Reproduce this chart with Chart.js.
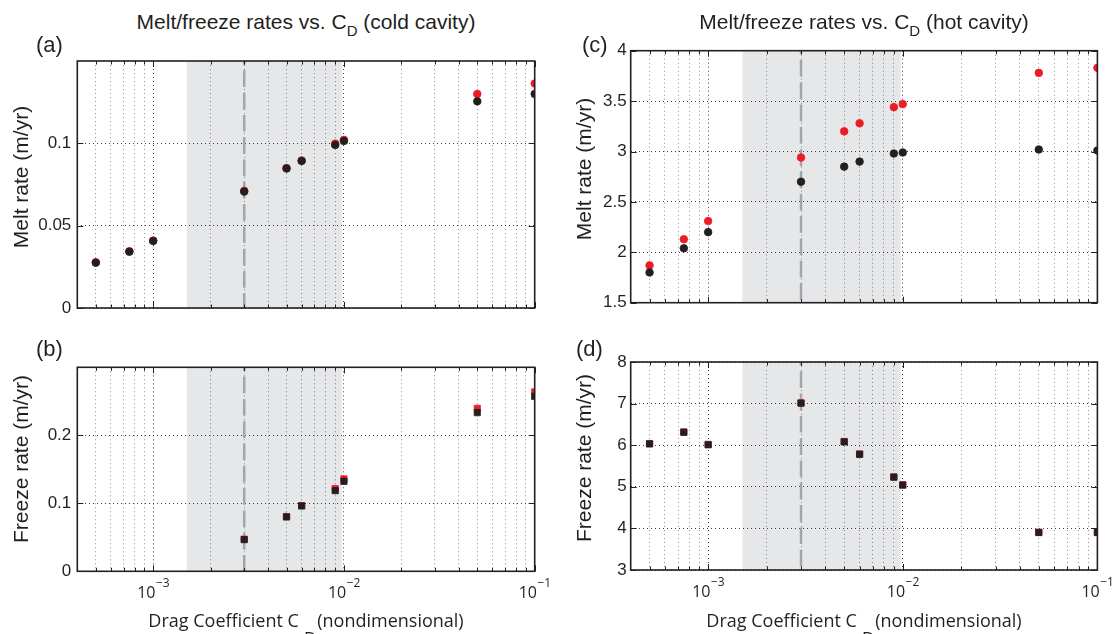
<!DOCTYPE html>
<html>
<head>
<meta charset="utf-8">
<title>Melt/freeze rates vs. C_D</title>
<script src="https://cdn.jsdelivr.net/npm/chart.js@4.4.0/dist/chart.umd.min.js"></script>
<style>
  html, body { margin: 0; padding: 0; background: #fff; }
  body {
    width: 1119px; height: 634px; position: relative; overflow: hidden;
    font-family: "Liberation Sans", Arial, sans-serif; color: #231f20;
  }
  canvas { position: absolute; }
  .txt { position: absolute; white-space: nowrap; line-height: 1; z-index: 2; }
  .title { font-size: 21px; transform: translateX(-50%); }
  .title sub { font-size: 15px; vertical-align: baseline; position: relative; top: 7px; }
  .panel { font-size: 22px; }
  .ylabel { font-size: 21px; transform: translate(-50%, -50%) rotate(-90deg); }
  .xlabel { font-family: "Open Sans", Lato, sans-serif; font-size: 18px; transform: translateX(-50%); }
  .xlabel sub { font-size: 17px; vertical-align: baseline; position: relative; top: 17px; margin: 0 1px 0 5px; }
</style>
</head>
<body>
<canvas id="meltCold" width="560" height="290" style="left:0;top:40px;width:560px;height:290px"></canvas>
<canvas id="freezeCold" width="560" height="294" style="left:0;top:340px;width:560px;height:294px"></canvas>
<canvas id="meltHot" width="559" height="300" style="left:560px;top:30px;width:559px;height:300px"></canvas>
<canvas id="freezeHot" width="559" height="294" style="left:560px;top:340px;width:559px;height:294px"></canvas>

<div class="txt title" style="left:306px;top:10.7px">Melt/freeze rates vs. C<sub>D</sub> (cold cavity)</div>
<div class="txt title" style="left:864px;top:10.7px">Melt/freeze rates vs. C<sub>D</sub> (hot cavity)</div>
<div class="txt panel" style="left:36px;top:34px">(a)</div>
<div class="txt panel" style="left:36px;top:338px">(b)</div>
<div class="txt panel" style="left:582px;top:34px">(c)</div>
<div class="txt panel" style="left:576px;top:338px">(d)</div>
<div class="txt ylabel" style="left:20px;top:177px">Melt rate (m/yr)</div>
<div class="txt ylabel" style="left:20px;top:459px">Freeze rate (m/yr)</div>
<div class="txt ylabel" style="left:583px;top:169px">Melt rate (m/yr)</div>
<div class="txt ylabel" style="left:583px;top:458px">Freeze rate (m/yr)</div>
<div class="txt xlabel" style="left:306px;top:610.5px">Drag Coefficient C<sub>D</sub>(nondimensional)</div>
<div class="txt xlabel" style="left:864px;top:610.5px">Drag Coefficient C<sub>D</sub>(nondimensional)</div>

<script>
// drag coefficients of the runs
const cd = [5e-4, 7.5e-4, 1e-3, 3e-3, 5e-3, 6e-3, 9e-3, 1e-2, 5e-2, 1e-1];

// (a) cold cavity melt rate
const meltColdBlack = [0.0275, 0.0342, 0.0407, 0.0707, 0.0847, 0.0893, 0.0990, 0.1014, 0.1255, 0.1300];
const meltColdRed = [0.0278, 0.0345, 0.0410, 0.0712, 0.0850, 0.0896, 0.0998, 0.1021, 0.1300, 0.1363];
// (b) cold cavity freeze rate (no runs below 3e-3)
const freezeColdBlack = [null, null, null, 0.0466, 0.0799, 0.0961, 0.1186, 0.1324, 0.2333, 0.2574];
const freezeColdRed = [null, null, null, 0.0472, 0.0805, 0.0966, 0.1216, 0.1358, 0.2397, 0.2637];
// (c) hot cavity melt rate
const meltHotBlack = [1.80, 2.04, 2.20, 2.70, 2.85, 2.90, 2.98, 2.99, 3.02, 3.01];
const meltHotRed = [1.87, 2.13, 2.31, 2.94, 3.20, 3.28, 3.44, 3.47, 3.78, 3.83];
// (d) hot cavity freeze rate
const freezeHotBlack = [6.03, 6.31, 6.01, 7.01, 6.08, 5.78, 5.23, 5.04, 3.90, 3.90];
const freezeHotRed = [6.04, 6.32, 6.02, 7.02, 6.09, 5.79, 5.24, 5.05, 3.91, 3.91];

// axes
const xTicks = [5e-4, 6e-4, 7e-4, 8e-4, 9e-4, 1e-3, 2e-3, 3e-3, 4e-3, 5e-3, 6e-3, 7e-3, 8e-3, 9e-3,
  1e-2, 2e-2, 3e-2, 4e-2, 5e-2, 6e-2, 7e-2, 8e-2, 9e-2, 1e-1];
const xMajor = [1e-3, 1e-2, 1e-1];
const xMajorBase = ["10", "10", "10"];
const xMajorExp = ["\u22123", "\u22122", "\u22121"];
const yTicksMeltCold = [0, 0.05, 0.1];
const yTicksFreezeCold = [0, 0.1, 0.2];
const yTicksMeltHot = [1.5, 2, 2.5, 3, 3.5, 4];
const yTicksFreezeHot = [3, 4, 5, 6, 7, 8];

// shaded C_D range and reference C_D
const band = [1.5e-3, 9.75e-3];
const refCd = 3e-3;

const INK = "#231f20";
const RED = "#ed1c24";
const GRID_MAJOR = "rgba(35,31,32,0.85)";
const GRID_MINOR = "rgba(35,31,32,0.5)";
const XFONT = "'Open Sans', Lato, sans-serif";

function majorIndex(v) {
  return xMajor.findIndex((m) => Math.abs(v / m - 1) < 1e-6);
}

function points(ys) {
  return cd.map((x, i) => ({ x, y: ys[i] })).filter((p) => p.y !== null);
}

const decor = {
  id: "decor",
  beforeDraw(chart) {
    const { ctx, chartArea: a, scales: { x } } = chart;
    const x0 = x.getPixelForValue(band[0]);
    const x1 = x.getPixelForValue(band[1]);
    ctx.save();
    ctx.fillStyle = "#e6e7e8";
    ctx.fillRect(x0, a.top, x1 - x0, a.bottom - a.top);
    ctx.restore();
  },
  beforeDatasetsDraw(chart) {
    const { ctx, chartArea: a, scales: { x } } = chart;
    const px = x.getPixelForValue(refCd);
    ctx.save();
    ctx.strokeStyle = "#a3a5a8";
    ctx.lineWidth = 2.5;
    ctx.setLineDash([16.7, 5.6]);
    ctx.lineDashOffset = 13;
    ctx.beginPath();
    ctx.moveTo(px, a.top);
    ctx.lineTo(px, a.bottom);
    ctx.stroke();
    ctx.restore();
  },
  afterDraw(chart, args, opts) {
    // box and inward tick marks, matlab style
    const { ctx, chartArea: a, scales: { x, y } } = chart;
    ctx.save();
    ctx.strokeStyle = INK;
    ctx.lineWidth = 1;
    ctx.beginPath();
    x.ticks.forEach((t) => {
      const px = Math.round(x.getPixelForValue(t.value)) + 0.5;
      const len = majorIndex(t.value) >= 0 ? 6 : 3.5;
      ctx.moveTo(px, a.bottom); ctx.lineTo(px, a.bottom - len);
      ctx.moveTo(px, a.top); ctx.lineTo(px, a.top + len);
    });
    y.ticks.forEach((t) => {
      const py = Math.round(y.getPixelForValue(t.value)) + 0.5;
      ctx.moveTo(a.left, py); ctx.lineTo(a.left + 6, py);
      ctx.moveTo(a.right, py); ctx.lineTo(a.right - 6, py);
    });
    ctx.stroke();
    ctx.lineWidth = 1.6;
    ctx.strokeRect(a.left, a.top, a.right - a.left, a.bottom - a.top);

    // decade labels 10^n with a raised exponent
    if (opts.xLabels) {
      ctx.fillStyle = INK;
      ctx.textAlign = "left";
      ctx.textBaseline = "alphabetic";
      xMajor.forEach((v, i) => {
        const px = x.getPixelForValue(v);
        ctx.font = "16px " + XFONT;
        const w1 = ctx.measureText(xMajorBase[i]).width;
        ctx.font = "12px " + XFONT;
        const w2 = ctx.measureText(xMajorExp[i]).width;
        const left = px - (w1 + w2) / 2;
        ctx.font = "16px " + XFONT;
        ctx.fillText(xMajorBase[i], left, a.bottom + 27);
        ctx.font = "12px " + XFONT;
        ctx.fillText(xMajorExp[i], left + w1 + 0.5, a.bottom + 16);
      });
    }
    ctx.restore();
  }
};

function makePanel(id, black, red, style, yMin, yMax, yTicks, cfg) {
  const radius = style === "rect" ? 4.4 : 3.8;
  new Chart(document.getElementById(id), {
    type: "scatter",
    data: {
      datasets: [
        { data: points(black), pointStyle: style, pointRadius: radius, pointBorderWidth: 0.8,
          backgroundColor: INK, borderColor: INK },
        { data: points(red), pointStyle: style, pointRadius: radius, pointBorderWidth: 0.8,
          backgroundColor: RED, borderColor: RED },
      ],
    },
    options: {
      responsive: false,
      animation: false,
      events: [],
      layout: { padding: cfg.pad },
      plugins: {
        legend: { display: false },
        tooltip: { enabled: false },
        decor: { xLabels: cfg.xh > 0 },
      },
      scales: {
        x: {
          type: "logarithmic",
          min: 4e-4,
          max: 0.1,
          afterBuildTicks: (s) => { s.ticks = xTicks.map((v) => ({ value: v })); },
          afterFit: (s) => { s.height = cfg.xh; },
          grid: {
            drawTicks: false,
            color: (c) => (c.tick && majorIndex(c.tick.value) >= 0 ? GRID_MAJOR : GRID_MINOR),
          },
          border: { display: false, dash: [1, 3] },
          ticks: { display: false, autoSkip: false, maxRotation: 0 },
        },
        y: {
          min: yMin,
          max: yMax,
          afterBuildTicks: (s) => { s.ticks = yTicks.map((v) => ({ value: v })); },
          afterFit: (s) => { s.width = cfg.yw; },
          grid: { drawTicks: false, color: GRID_MAJOR },
          border: { display: false, dash: [1, 3] },
          ticks: {
            padding: cfg.tickPad,
            color: INK,
            font: { family: "'Liberation Sans', Arial, sans-serif", size: 17 },
            callback: (v) => String(v),
          },
        },
      },
    },
    plugins: [decor],
  });
}

makePanel("meltCold", meltColdBlack, meltColdRed, "circle", 0, 0.15, yTicksMeltCold,
  { yw: 77.3, xh: 0, tickPad: 6, pad: { left: 0, right: 25.3, top: 21, bottom: 22 } });
makePanel("freezeCold", freezeColdBlack, freezeColdRed, "rect", 0, 0.3, yTicksFreezeCold,
  { yw: 77.3, xh: 30, tickPad: 6, pad: { left: 0, right: 25.3, top: 27.3, bottom: 32.7 } });
makePanel("meltHot", meltHotBlack, meltHotRed, "circle", 1.5, 4, yTicksMeltHot,
  { yw: 70.7, xh: 0, tickPad: 4, pad: { left: 0, right: 21.6, top: 20.7, bottom: 27.3 } });
makePanel("freezeHot", freezeHotBlack, freezeHotRed, "rect", 3, 8, yTicksFreezeHot,
  { yw: 70.7, xh: 30, tickPad: 4, pad: { left: 0, right: 21.6, top: 22, bottom: 34 } });
</script>
</body>
</html>
